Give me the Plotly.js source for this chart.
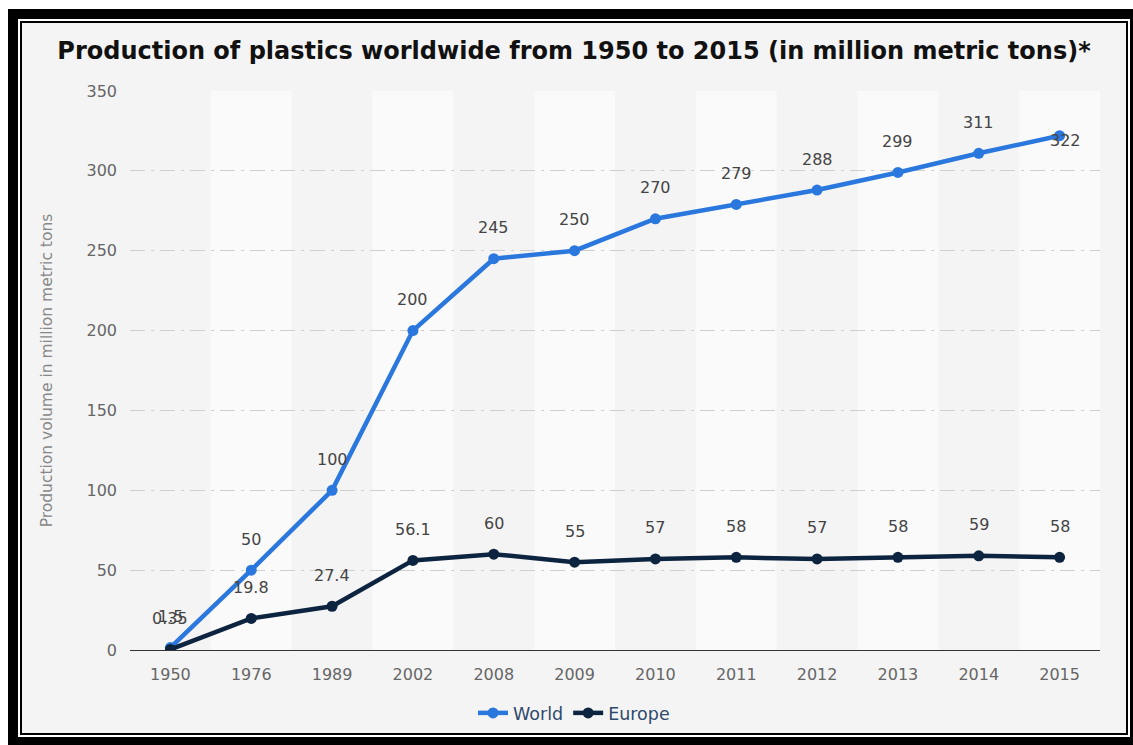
<!DOCTYPE html>
<html>
<head>
<meta charset="utf-8">
<script src="https://cdn.plot.ly/plotly-3.0.1.min.js"></script>
<style>
  html, body { margin: 0; padding: 0; background: #ffffff; overflow: hidden; width: 1133px; height: 745px; }
  #frameA { position: absolute; left: 8px; top: 9px; width: 1140px; height: 750px; background: #000; }
  #frameB { position: absolute; left: 10px; top: 10px; width: 1112px; height: 718px; background: #fff; }
  #frameC { position: absolute; left: 2px; top: 2px; width: 1108px; height: 714px; background: #000; }
  #chart { position: absolute; left: 2px; top: 2px; width: 1104px; height: 710px; background: #f4f4f4; }
</style>
</head>
<body>
<div id="frameA"><div id="frameB"><div id="frameC"><div id="chart"></div></div></div></div>
<script>
const years = ["1950","1976","1989","2002","2008","2009","2010","2011","2012","2013","2014","2015"];
const worldValues = [1.5, 50, 100, 200, 245, 250, 270, 279, 288, 299, 311, 322];
const europeValues = [0.35, 19.8, 27.4, 56.1, 60, 55, 57, 58, 57, 58, 59, 58];
const worldLabels = ["1.5","50","100","200","245","250","270","279","288","299","311","322"];
const europeLabels = ["0.35","19.8","27.4","56.1","60","55","57","58","57","58","59","58"];

const FONT = "DejaVu Sans";
const worldColor = "#2a78de";
const europeColor = "#0d2440";

const traces = [
  { type: "scatter", mode: "lines+markers", name: "World", x: years, y: worldValues,
    line: { color: worldColor, width: 4.5 }, marker: { color: worldColor, size: 11 }, hoverinfo: "x+y" },
  { type: "scatter", mode: "lines+markers", name: "Europe", x: years, y: europeValues,
    line: { color: europeColor, width: 4.5 }, marker: { color: europeColor, size: 11 }, hoverinfo: "x+y" }
];

const annotations = [];
function addLabels(vals, labels) {
  for (let i = 0; i < vals.length; i++) {
    const v = vals[i];
    const last = (i === vals.length - 1) && v > 300;
    annotations.push({
      x: i, y: v, xref: "x", yref: "y", text: labels[i], showarrow: false,
      xanchor: "center", yanchor: "middle",
      xshift: last ? 6 : 0, yshift: last ? -5 : 31,
      font: { family: FONT, size: 16, color: "#444444" }
    });
  }
}
addLabels(worldValues, worldLabels);
addLabels(europeValues, europeLabels);

const shapes = [];
for (let i = 1; i < years.length; i += 2) {
  shapes.push({ type: "rect", xref: "x", yref: "y", x0: i - 0.5, x1: i + 0.5, y0: 0, y1: 350,
    fillcolor: "#fafafa", line: { width: 0 }, layer: "below" });
}

const layout = {
  width: 1104, height: 710,
  paper_bgcolor: "#f4f4f4", plot_bgcolor: "#f4f4f4",
  margin: { l: 108, r: 26, t: 68, b: 83 },
  font: { family: FONT, color: "#666" },
  title: { text: "<b>Production of plastics worldwide from 1950 to 2015 (in million metric tons)*</b>",
    font: { family: FONT, size: 24, color: "#111" }, x: 0.5, xanchor: "center", xref: "container",
    y: 1 - 28 / 710, yanchor: "middle", yref: "container" },
  xaxis: { type: "category", range: [-0.5, 11.5], showgrid: false, showline: true, linecolor: "#333", linewidth: 1,
    zeroline: false, tickfont: { family: FONT, size: 16, color: "#666" }, ticks: "", ticklabelstandoff: 10, automargin: false, fixedrange: true },
  yaxis: { range: [0, 350], tickvals: [0, 50, 100, 150, 200, 250, 300, 350], showgrid: true, gridcolor: "#cfcfcf",
    griddash: "longdashdot", gridwidth: 1, zeroline: false, showline: false,
    tickfont: { family: FONT, size: 16, color: "#666" }, ticks: "", ticklabelstandoff: 12, automargin: false,
    title: { text: "Production volume in million metric tons", font: { family: FONT, size: 15.5, color: "#888" }, standoff: 30 },
    fixedrange: true },
  showlegend: true,
  legend: { orientation: "h", x: 0.5, xanchor: "center", xref: "container", y: 20 / 710, yanchor: "middle", yref: "container",
    font: { family: FONT, size: 17.5, color: "#2f4a6b" }, bgcolor: "rgba(0,0,0,0)", traceorder: "normal" },
  annotations: annotations,
  shapes: shapes
};

Plotly.newPlot("chart", traces, layout, { displayModeBar: false });
</script>
</body>
</html>
